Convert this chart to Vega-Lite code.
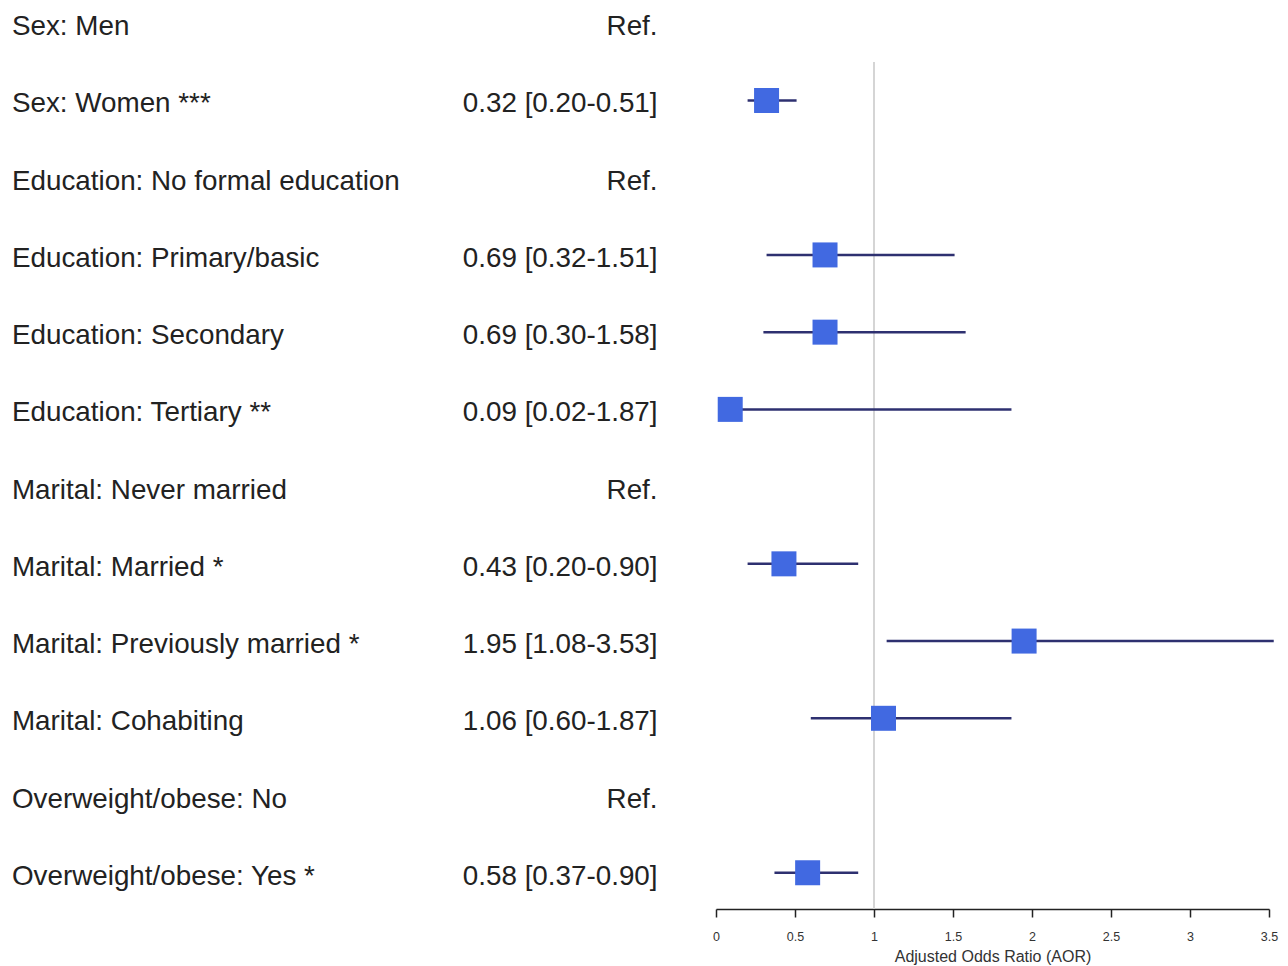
{
  "$schema": "https://vega.github.io/schema/vega-lite/v6.json",
  "autosize": {"type": "none"},
  "padding": {"left": 716, "top": 0, "right": 19, "bottom": 70},
  "width": 553,
  "height": 896,
  "background": "white",
  "config": {"view": {"stroke": null}, "font": "Liberation Sans"},
  "data": {"values": [
    {"label": "Sex: Men", "est": "Ref.", "or": null, "lo": null, "hi": null},
    {"label": "Sex: Women ***", "est": "0.32 [0.20-0.51]", "or": 0.32, "lo": 0.20, "hi": 0.51},
    {"label": "Education: No formal education", "est": "Ref.", "or": null, "lo": null, "hi": null},
    {"label": "Education: Primary/basic", "est": "0.69 [0.32-1.51]", "or": 0.69, "lo": 0.32, "hi": 1.51},
    {"label": "Education: Secondary", "est": "0.69 [0.30-1.58]", "or": 0.69, "lo": 0.30, "hi": 1.58},
    {"label": "Education: Tertiary **", "est": "0.09 [0.02-1.87]", "or": 0.09, "lo": 0.02, "hi": 1.87},
    {"label": "Marital: Never married", "est": "Ref.", "or": null, "lo": null, "hi": null},
    {"label": "Marital: Married *", "est": "0.43 [0.20-0.90]", "or": 0.43, "lo": 0.20, "hi": 0.90},
    {"label": "Marital: Previously married *", "est": "1.95 [1.08-3.53]", "or": 1.95, "lo": 1.08, "hi": 3.53},
    {"label": "Marital: Cohabiting", "est": "1.06 [0.60-1.87]", "or": 1.06, "lo": 0.60, "hi": 1.87},
    {"label": "Overweight/obese: No", "est": "Ref.", "or": null, "lo": null, "hi": null},
    {"label": "Overweight/obese: Yes *", "est": "0.58 [0.37-0.90]", "or": 0.58, "lo": 0.37, "hi": 0.90}
  ]},
  "encoding": {
    "y": {
      "field": "label", "type": "nominal",
      "scale": {
        "type": "point", "padding": 0.301,
        "domain": ["Sex: Men", "Sex: Women ***", "Education: No formal education", "Education: Primary/basic", "Education: Secondary", "Education: Tertiary **", "Marital: Never married", "Marital: Married *", "Marital: Previously married *", "Marital: Cohabiting", "Overweight/obese: No", "Overweight/obese: Yes *"]
      },
      "axis": null
    }
  },
  "layer": [
    {
      "mark": {"type": "rule", "color": "#d4d4d4", "strokeWidth": 1.5, "yOffset": -38.5, "y2Offset": 36},
      "encoding": {
        "x": {"datum": 1, "type": "quantitative"},
        "y": {"datum": "Sex: Women ***"},
        "y2": {"datum": "Overweight/obese: Yes *"}
      }
    },
    {
      "mark": {"type": "text", "align": "left", "baseline": "middle", "fontSize": 27.8, "color": "#222222", "dy": 4},
      "encoding": {
        "x": {"datum": -4.456, "type": "quantitative"},
        "text": {"field": "label"}
      }
    },
    {
      "mark": {"type": "text", "align": "right", "baseline": "middle", "fontSize": 27.8, "color": "#222222", "dy": 4},
      "encoding": {
        "x": {"datum": -0.37, "type": "quantitative"},
        "text": {"field": "est"}
      }
    },
    {
      "transform": [{"filter": "datum.or != null"}],
      "mark": {"type": "rule", "color": "#2e3070", "strokeWidth": 2.5},
      "encoding": {
        "x": {
          "field": "lo", "type": "quantitative",
          "scale": {"domain": [0, 3.5], "nice": false, "zero": false},
          "axis": {
            "values": [0, 0.5, 1, 1.5, 2, 2.5, 3, 3.5],
            "format": "~g",
            "title": "Adjusted Odds Ratio (AOR)",
            "grid": false,
            "offset": 13,
            "labelFlush": false,
            "domainColor": "#222222", "domainWidth": 1.5,
            "tickColor": "#222222", "tickWidth": 1.5, "tickSize": 8,
            "labelFontSize": 12.5, "labelColor": "#333333", "labelPadding": 13,
            "titleFontSize": 16, "titleFontWeight": "normal", "titleColor": "#333333", "titlePadding": 6
          }
        },
        "x2": {"field": "hi"}
      }
    },
    {
      "transform": [{"filter": "datum.or != null"}],
      "mark": {"type": "point", "shape": "square", "filled": true, "size": 625, "color": "#4169e1", "opacity": 1},
      "encoding": {
        "x": {"field": "or", "type": "quantitative"}
      }
    }
  ]
}
